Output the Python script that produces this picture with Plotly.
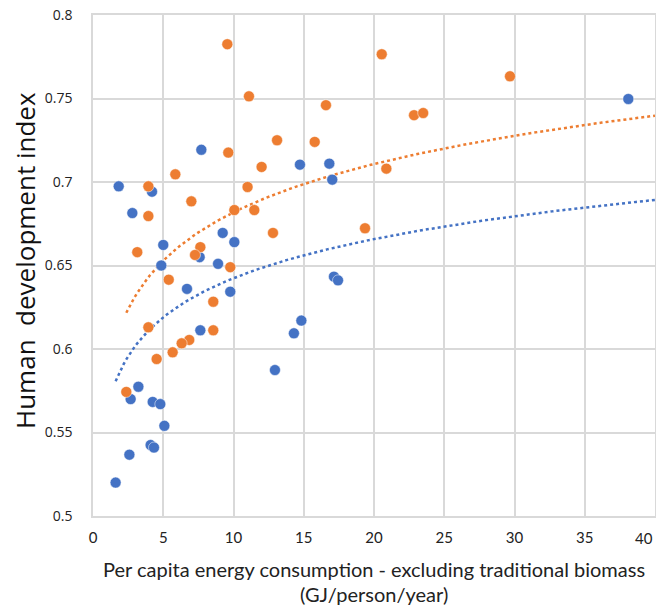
import numpy as np
import plotly.graph_objects as go

# Blue series
blue_x = [7.71, 1.83, 4.2, 2.8, 9.23, 10.06, 5.0, 7.59, 4.86, 8.9, 6.69, 9.77, 7.64, 12.95,
          3.23, 2.68, 4.25, 4.79, 5.08, 4.1, 4.34, 2.59, 1.61, 14.73, 16.82, 17.03, 17.15,
          17.44, 14.83, 14.3, 38.1]
blue_y = [0.7193, 0.6974, 0.6942, 0.6814, 0.6695, 0.664, 0.6623, 0.655, 0.650, 0.651, 0.636,
          0.6343, 0.6112, 0.5874, 0.5774, 0.570, 0.5683, 0.567, 0.554, 0.5425, 0.541, 0.5367,
          0.520, 0.7104, 0.711, 0.7014, 0.6433, 0.6411, 0.617, 0.6094, 0.7497]

# Orange series
orange_x = [9.56, 11.1, 13.1, 9.63, 12.0, 5.86, 3.94, 11.0, 7.0, 10.06, 11.48, 3.94, 12.81,
            3.15, 7.64, 7.26, 9.77, 5.39, 8.56, 3.94, 8.56, 6.85, 6.31, 5.67, 4.53, 2.37,
            20.55, 16.58, 22.85, 23.5, 15.78, 20.88, 19.36, 29.68]
orange_y = [0.7825, 0.7513, 0.725, 0.7176, 0.709, 0.7046, 0.6974, 0.697, 0.6884, 0.6832,
            0.6832, 0.6796, 0.6695, 0.658, 0.661, 0.6563, 0.649, 0.6415, 0.6283, 0.613,
            0.6112, 0.6054, 0.6034, 0.598, 0.594, 0.5743, 0.7765, 0.746, 0.740, 0.7413,
            0.724, 0.708, 0.6723, 0.7633]

# Logarithmic trendline coefficients (y = a + b*ln x)
blue_trend_a, blue_trend_b = 0.5646, 0.03379
orange_trend_a, orange_trend_b = 0.5857, 0.04175

x_ticks = [0, 5, 10, 15, 20, 25, 30, 35, 40]
x_tick_labels = ["0", "5", "10", "15", "20", "25", "30", "35", "40"]
y_ticks = [0.5, 0.55, 0.6, 0.65, 0.7, 0.75, 0.8]
y_tick_labels = ["0.5", "0.55", "0.6", "0.65", "0.7", "0.75", "0.8"]
x_title_lines = ["Per capita energy consumption - excluding traditional biomass",
                 "(GJ/person/year)"]
y_title = "Human  development index"

BLUE = "#4472C4"
ORANGE = "#ED7D31"
X_MAX = 40


def log_trend(xs, a, b):
    xt = np.linspace(min(xs), X_MAX, 200)
    return xt, a + b * np.log(xt)


fig = go.Figure()

bx, by = log_trend(blue_x, blue_trend_a, blue_trend_b)
ox, oy = log_trend(orange_x, orange_trend_a, orange_trend_b)

fig.add_trace(go.Scatter(x=bx, y=by, mode="lines",
                         line=dict(color=BLUE, width=2.5, dash="dot"), showlegend=False,
                         hoverinfo="skip"))
fig.add_trace(go.Scatter(x=ox, y=oy, mode="lines",
                         line=dict(color=ORANGE, width=2.5, dash="dot"), showlegend=False,
                         hoverinfo="skip"))
fig.add_trace(go.Scatter(x=blue_x, y=blue_y, mode="markers",
                         marker=dict(color=BLUE, size=11, line=dict(color="white", width=0.5)),
                         showlegend=False))
fig.add_trace(go.Scatter(x=orange_x, y=orange_y, mode="markers",
                         marker=dict(color=ORANGE, size=11, line=dict(color="white", width=0.5)),
                         showlegend=False))

grid = "#d9d9d9"
tick_font = dict(family="Lato", size=15, color="#222")
# last x tick label drawn separately, right-aligned so it stays inside the window
fig.update_xaxes(range=[0, 40], tickvals=x_ticks, ticktext=x_tick_labels[:-1] + [""],
                 showgrid=True, gridcolor=grid, gridwidth=1.5,
                 zeroline=False, showline=True, linecolor=grid, linewidth=1.5, mirror=True,
                 ticks="", ticklen=0, automargin=False, ticklabeloverflow="allow",
                 ticklabelstandoff=7, tickfont=tick_font)
fig.update_yaxes(range=[0.5, 0.8], tickvals=y_ticks, ticktext=y_tick_labels, showgrid=True,
                 gridcolor=grid, gridwidth=1.5, zeroline=False, showline=True, linecolor=grid,
                 linewidth=1.5, mirror=True, ticks="outside", ticklen=16, tickcolor="rgba(0,0,0,0)",
                 automargin=False, ticklabeloverflow="allow",
                 tickfont=dict(family="Open Sans", size=14, color="#222"))

PLOT_H = 501
fig.add_annotation(text=x_tick_labels[-1], xref="x", yref="paper", x=x_ticks[-1],
                   y=-(538 - 516) / PLOT_H, showarrow=False, xanchor="right", yanchor="middle",
                   font=tick_font)
fig.add_annotation(text=y_title, textangle=-90, xref="paper", yref="paper",
                   x=(25 - 93) / 562, y=1 - (261 - 15) / PLOT_H, showarrow=False,
                   xanchor="center", yanchor="middle",
                   font=dict(family="Open Sans", size=26, color="#111"))
for line, ypx in zip(x_title_lines, [569, 594]):
    fig.add_annotation(text=line, xref="paper", yref="paper", x=0.5, y=-(ypx - 516) / PLOT_H,
                       showarrow=False, xanchor="center", yanchor="middle",
                       font=dict(family="Lato", size=20, color="#222"))

# the page body adds an 8px margin at the top and left
fig.update_layout(width=656, height=602, margin=dict(l=85, r=9, t=7, b=94),
                  plot_bgcolor="white", paper_bgcolor="white")

fig.write_html("out.html")
